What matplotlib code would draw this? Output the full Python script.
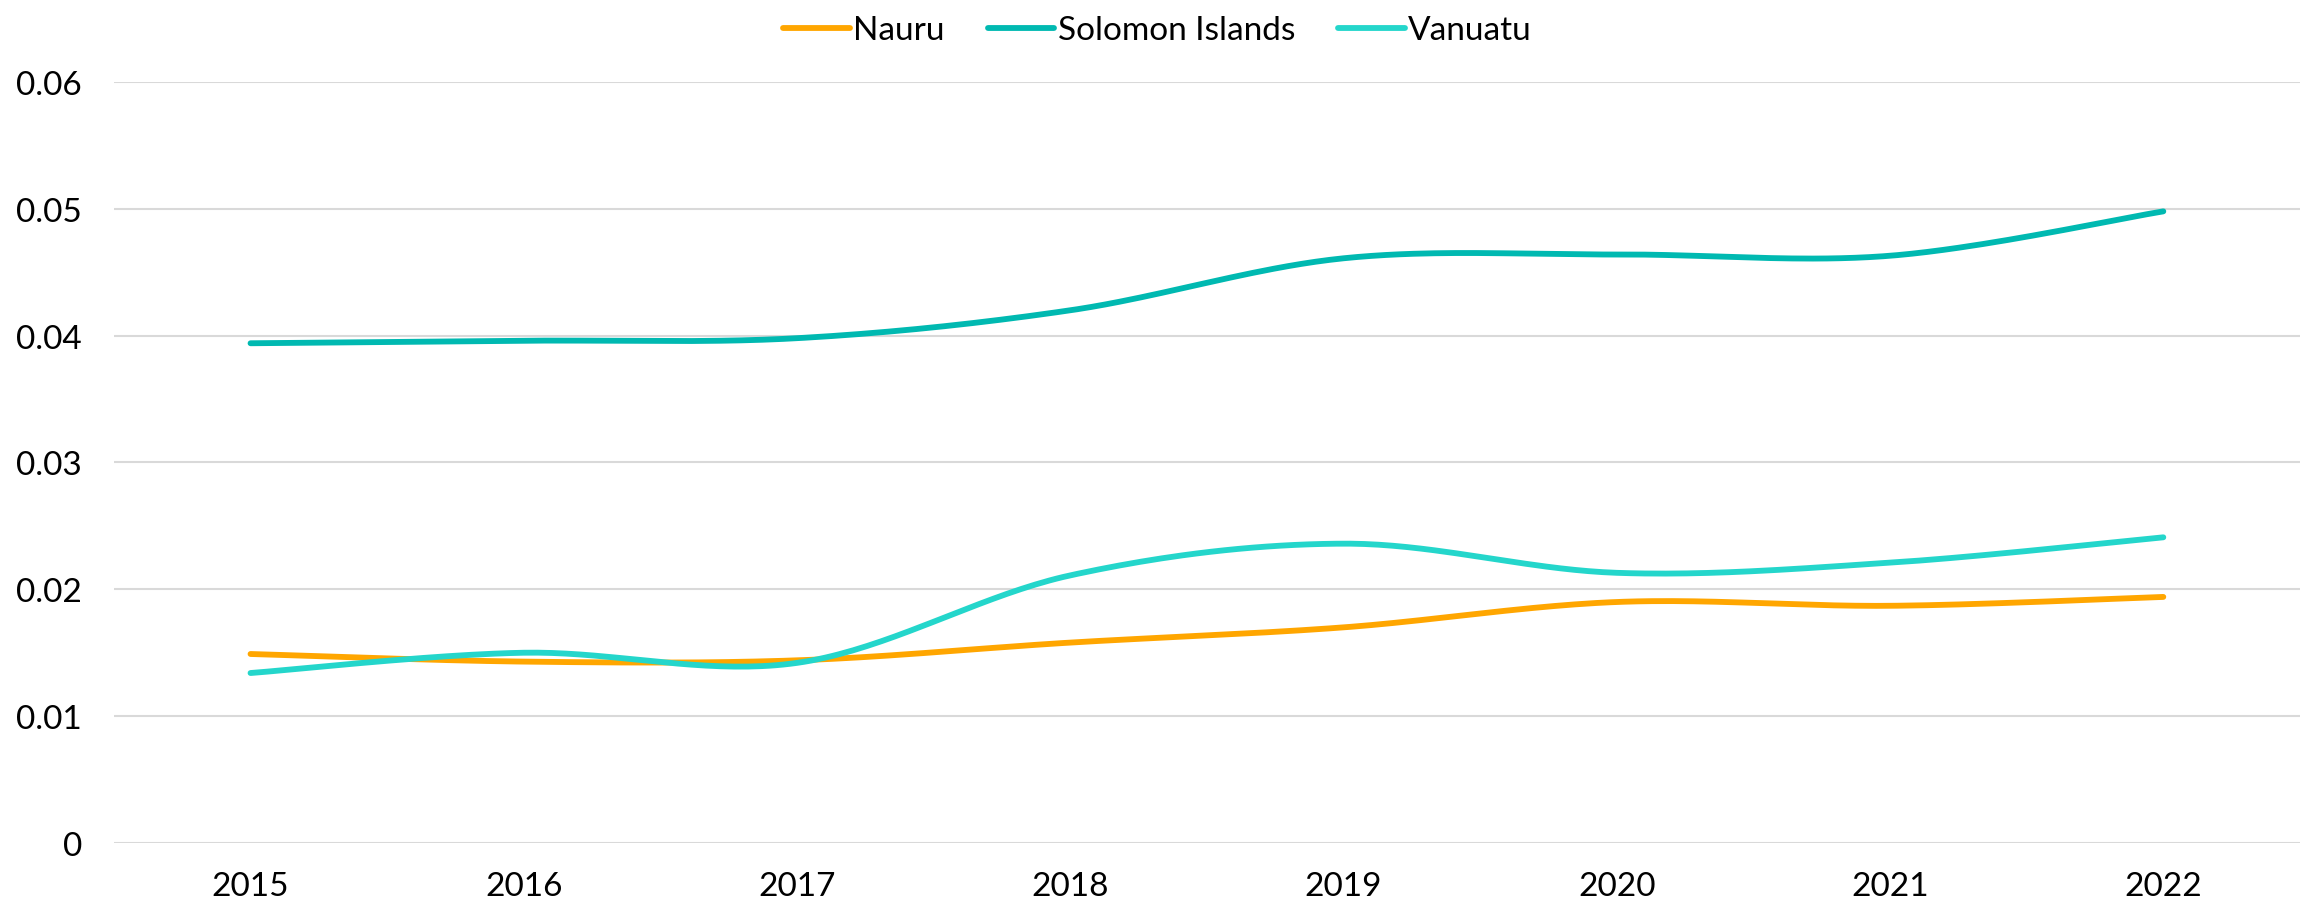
import matplotlib
matplotlib.use("Agg")
import matplotlib.pyplot as plt
import numpy as np

plt.rcParams["font.family"] = ["Lato", "DejaVu Sans"]

years = ["2015", "2016", "2017", "2018", "2019", "2020", "2021", "2022"]
nauru = [0.0149, 0.0143, 0.0144, 0.0158, 0.0170, 0.0190, 0.0187, 0.0194]
solomon = [0.0394, 0.0396, 0.0398, 0.0420, 0.0461, 0.0464, 0.0463, 0.0498]
vanuatu = [0.0134, 0.0150, 0.0142, 0.0211, 0.0236, 0.0213, 0.0221, 0.0241]

series = [
    ("Nauru", nauru, "#FFA600"),
    ("Solomon Islands", solomon, "#00B9B1"),
    ("Vanuatu", vanuatu, "#24D6CB"),
]


def smooth(y, steps=40):
    # bezier curve through the points, excel style smoothing
    x = np.arange(len(y), dtype=float)
    y = np.asarray(y, dtype=float)
    px = np.concatenate([[x[0]], x, [x[-1]]])
    py = np.concatenate([[y[0]], y, [y[-1]]])
    xs, ys = [], []
    t = np.linspace(0, 1, steps)
    for i in range(len(y) - 1):
        p0 = np.array([px[i + 1], py[i + 1]])
        p3 = np.array([px[i + 2], py[i + 2]])
        c1 = p0 + (p3 - np.array([px[i], py[i]])) / 6
        c2 = p3 - (np.array([px[i + 3], py[i + 3]]) - p0) / 6
        pts = ((1 - t) ** 3)[:, None] * p0 + (3 * (1 - t) ** 2 * t)[:, None] * c1 \
            + (3 * (1 - t) * t ** 2)[:, None] * c2 + (t ** 3)[:, None] * p3
        xs.extend(pts[:, 0])
        ys.extend(pts[:, 1])
    return xs, ys


fig = plt.figure(figsize=(23.15, 9.04), dpi=100)
ax = fig.add_axes([0.0492, 0.0664, 0.9443, 0.8418])

for name, vals, color in series:
    sx, sy = smooth(vals)
    ax.plot(sx, sy, color=color, lw=4.2, solid_capstyle="round", label=name)

ax.set_xlim(-0.5, len(years) - 0.5)
ax.set_ylim(0, 0.06)
ax.set_xticks(range(len(years)))
ax.set_xticklabels(years)
ax.set_yticks([0, 0.01, 0.02, 0.03, 0.04, 0.05, 0.06])
ax.set_yticklabels(["0", "0.01", "0.02", "0.03", "0.04", "0.05", "0.06"])
ax.tick_params(axis="both", length=0, labelsize=24, colors="black")
ax.tick_params(axis="y", pad=23)
ax.tick_params(axis="x", pad=20)
ax.grid(axis="y", color="#D9D9D9", lw=1.5)
ax.set_axisbelow(True)
for s in ax.spines.values():
    s.set_visible(False)

fig.legend(loc="upper center", bbox_to_anchor=(0.5, 1.015), ncol=3, frameon=False,
           fontsize=24, handlelength=2.0, handletextpad=0.1, columnspacing=1.3)

fig.savefig("out.png", dpi=100, facecolor="white")
